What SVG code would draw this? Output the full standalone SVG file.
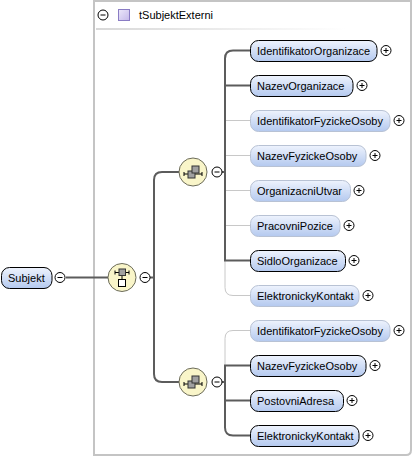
<svg xmlns="http://www.w3.org/2000/svg" width="415" height="459" viewBox="0 0 415 459">
<defs>
<linearGradient id="eg" x1="0" y1="0" x2="0" y2="1">
<stop offset="0" stop-color="#eef3fd"/>
<stop offset="1" stop-color="#b4c9ef"/>
</linearGradient>
<linearGradient id="hl" x1="0" y1="0" x2="1" y2="0">
<stop offset="0" stop-color="#d8d8d8"/>
<stop offset="1" stop-color="#ffffff"/>
</linearGradient>
<linearGradient id="pg" x1="0" y1="0" x2="1" y2="1">
<stop offset="0" stop-color="#ece8fa"/>
<stop offset="1" stop-color="#c4b8ea"/>
</linearGradient>
<g id="plus"><circle r="5" fill="#fff" stroke="#000"/><path d="M-2.5,0H2.5M0,-2.5V2.5" stroke="#000"/></g>
<g id="minus"><circle r="5" fill="#fff" stroke="#000"/><path d="M-2.5,0H2.5" stroke="#000"/></g>
<g id="choice">
<circle r="14" fill="#f9f5c9" stroke="#6b6b5a"/>
<path d="M-9,2H9M-9,0V4M9,0V4" stroke="#000" fill="none"/>
<rect x="-5" y="-1" width="7" height="7" fill="#a0a0a0" stroke="#333"/>
<rect x="-1" y="-6" width="7" height="7" fill="#a0a0a0" stroke="#333"/>
</g>
</defs>
<style>
text{font-family:"Liberation Sans",Arial,sans-serif;font-size:11px;fill:#000}
.el{fill:url(#eg);stroke:#000;stroke-width:1}
.opt{fill:url(#eg);stroke:#b8c2d4;stroke-width:1}
.dk{fill:none;stroke:#5c5c5c;stroke-width:2}
.lt{fill:none;stroke:#c8c8c8;stroke-width:1}
</style>
<g id="typebox">
<path d="M94,1H411V450Q411,455 406,455H94Z" fill="#fff" stroke="#c4c4c4" stroke-width="2"/>
<use href="#minus" x="103" y="15"/>
<rect x="118.5" y="9.5" width="11" height="11" fill="url(#pg)" stroke="#8a7cc4"/>
<text x="139" y="19">tSubjektExterni</text>
<rect x="96" y="28" width="250" height="2" fill="url(#hl)"/>
</g>
<g id="connectors">
<path class="dk" d="M66,277.5H108"/>
<path class="dk" d="M150,277.5H154M179,172H162Q154,172 154,180V374Q154,382 162,382H179"/>
<path class="lt" d="M225,120.5H250M225,155.5H250M225,190.5H250M225,225.5H250M225,260.5V287.5Q225,295.5 233,295.5H250"/>
<path class="dk" d="M222,172H225M250,50.5H233Q225,50.5 225,58.5V260.5H250M225,85.5H250"/>
<path class="lt" d="M250,330.5H233Q225,330.5 225,338.5V365.5"/>
<path class="dk" d="M222,382H225M250,365.5H225V427.5Q225,435.5 233,435.5H250M225,400.5H250"/>
</g>
<g id="Subjekt">
<rect class="el" x="1.5" y="267.5" width="50.5" height="21" rx="8"/>
<text x="8" y="282">Subjekt</text>
<use href="#minus" x="60" y="277.5"/>
</g>
<g id="sequence">
<circle cx="122" cy="277.5" r="14" fill="#f9f5c9" stroke="#6b6b5a"/>
<path d="M115,272.5H129M115,270.5V274.5M129,270.5V274.5M122,275V279" stroke="#000" fill="none"/>
<rect x="119" y="269" width="6.5" height="6.5" fill="#a0a0a0" stroke="#333"/>
<rect x="118.5" y="279.5" width="7" height="7" fill="#fff" stroke="#000"/>
<use href="#minus" x="145" y="277.5"/>
</g>
<g id="choice1">
<use href="#choice" x="193" y="172"/>
<use href="#minus" x="217" y="172"/>
</g>
<g id="choice2">
<use href="#choice" x="193" y="382"/>
<use href="#minus" x="217" y="382"/>
</g>
<g id="IdentifikatorOrganizace">
<rect class="el" x="250.5" y="40.5" width="126.5" height="21" rx="8"/>
<text x="257" y="55">IdentifikatorOrganizace</text>
<use href="#plus" x="386" y="50.5"/>
</g>
<g id="NazevOrganizace">
<rect class="el" x="250.5" y="75.5" width="102.5" height="21" rx="8"/>
<text x="257" y="90">NazevOrganizace</text>
<use href="#plus" x="362" y="85.5"/>
</g>
<g id="IdentifikatorFyzickeOsoby1">
<rect class="opt" x="250.5" y="110.5" width="139.5" height="21" rx="8"/>
<text x="257" y="125">IdentifikatorFyzickeOsoby</text>
<use href="#plus" x="399" y="120.5"/>
</g>
<g id="NazevFyzickeOsoby1">
<rect class="opt" x="250.5" y="145.5" width="115.5" height="21" rx="8"/>
<text x="257" y="160">NazevFyzickeOsoby</text>
<use href="#plus" x="375" y="155.5"/>
</g>
<g id="OrganizacniUtvar">
<rect class="opt" x="250.5" y="180.5" width="100" height="21" rx="8"/>
<text x="257" y="195">OrganizacniUtvar</text>
<use href="#plus" x="359" y="190.5"/>
</g>
<g id="PracovniPozice">
<rect class="opt" x="250.5" y="215.5" width="89.5" height="21" rx="8"/>
<text x="257" y="230">PracovniPozice</text>
<use href="#plus" x="349" y="225.5"/>
</g>
<g id="SidloOrganizace">
<rect class="el" x="250.5" y="250.5" width="95" height="21" rx="8"/>
<text x="257" y="265">SidloOrganizace</text>
<use href="#plus" x="354" y="260.5"/>
</g>
<g id="ElektronickyKontakt1">
<rect class="opt" x="250.5" y="285.5" width="108.5" height="21" rx="8"/>
<text x="257" y="300">ElektronickyKontakt</text>
<use href="#plus" x="368" y="295.5"/>
</g>
<g id="IdentifikatorFyzickeOsoby2">
<rect class="opt" x="250.5" y="320.5" width="139.5" height="21" rx="8"/>
<text x="257" y="335">IdentifikatorFyzickeOsoby</text>
<use href="#plus" x="399" y="330.5"/>
</g>
<g id="NazevFyzickeOsoby2">
<rect class="el" x="250.5" y="355.5" width="115.5" height="21" rx="8"/>
<text x="257" y="370">NazevFyzickeOsoby</text>
<use href="#plus" x="375" y="365.5"/>
</g>
<g id="PostovniAdresa">
<rect class="el" x="250.5" y="390.5" width="93" height="21" rx="8"/>
<text x="257" y="405">PostovniAdresa</text>
<use href="#plus" x="352" y="400.5"/>
</g>
<g id="ElektronickyKontakt2">
<rect class="el" x="250.5" y="425.5" width="108.5" height="21" rx="8"/>
<text x="257" y="440">ElektronickyKontakt</text>
<use href="#plus" x="368" y="435.5"/>
</g>
</svg>
